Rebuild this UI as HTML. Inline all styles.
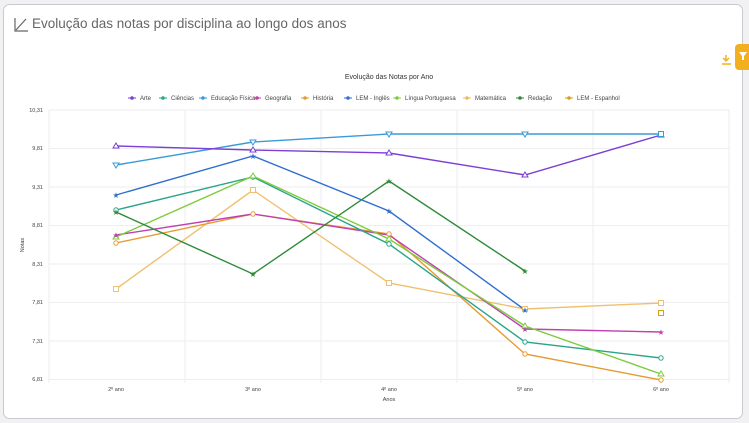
<!DOCTYPE html>
<html><head><meta charset="utf-8"><style>
html,body{margin:0;padding:0;background:#f1f1f3;width:749px;height:423px;overflow:hidden;font-family:"Liberation Sans",sans-serif}
</style></head><body>
<svg width="749" height="423" xmlns="http://www.w3.org/2000/svg" font-family="Liberation Sans, sans-serif">
<rect x="3.5" y="4.5" width="739" height="414" rx="6" fill="#fff" stroke="#c9c9d0"/>
<path d="M15,18 V31 H28 M16,30 L26,19" stroke="#666" stroke-width="1.2" fill="none"/>
<text x="32" y="28" font-size="13.5" fill="#666">Evolução das notas por disciplina ao longo dos anos</text>
<rect x="735" y="44" width="20" height="26" rx="4" fill="#f2b01e"/>
<path d="M739,52 h8 l-3,4 v4 h-2 v-4z" fill="#fff"/>
<path d="M726,55 v6 M723,58 l3,3 l3,-3 M722,64 h9" stroke="#f2b01e" stroke-width="1.5" fill="none"/>
<text x="389" y="79" font-size="7" fill="#333" text-anchor="middle">Evolução das Notas por Ano</text>
<g font-size="6" fill="#444">
<circle cx="132" cy="98" r="1.8" fill="#7b3fd6"/><line x1="128" y1="98" x2="136" y2="98" stroke="#7b3fd6"/><text x="140" y="100">Arte</text>
<circle cx="163" cy="98" r="1.8" fill="#2aa58a"/><line x1="159" y1="98" x2="167" y2="98" stroke="#2aa58a"/><text x="171" y="100">Ciências</text>
<circle cx="203" cy="98" r="1.8" fill="#3a9ad9"/><line x1="199" y1="98" x2="207" y2="98" stroke="#3a9ad9"/><text x="211" y="100">Educação Física</text>
<circle cx="257" cy="98" r="1.8" fill="#c040b0"/><line x1="253" y1="98" x2="261" y2="98" stroke="#c040b0"/><text x="265" y="100">Geografia</text>
<circle cx="305" cy="98" r="1.8" fill="#e69a30"/><line x1="301" y1="98" x2="309" y2="98" stroke="#e69a30"/><text x="313" y="100">História</text>
<circle cx="348" cy="98" r="1.8" fill="#2f6fd0"/><line x1="344" y1="98" x2="352" y2="98" stroke="#2f6fd0"/><text x="356" y="100">LEM - Inglês</text>
<circle cx="397" cy="98" r="1.8" fill="#7ccc3a"/><line x1="393" y1="98" x2="401" y2="98" stroke="#7ccc3a"/><text x="405" y="100">Língua Portuguesa</text>
<circle cx="467" cy="98" r="1.8" fill="#f0b860"/><line x1="463" y1="98" x2="471" y2="98" stroke="#f0b860"/><text x="475" y="100">Matemática</text>
<circle cx="520" cy="98" r="1.8" fill="#2e8b3a"/><line x1="516" y1="98" x2="524" y2="98" stroke="#2e8b3a"/><text x="528" y="100">Redação</text>
<circle cx="569" cy="98" r="1.8" fill="#d4a017"/><line x1="565" y1="98" x2="573" y2="98" stroke="#d4a017"/><text x="577" y="100">LEM - Espanhol</text>
</g>
<g stroke="#eeeef0" stroke-width="1">
<line x1="49" y1="110" x2="730" y2="110"/><line x1="49" y1="148.5" x2="730" y2="148.5"/><line x1="49" y1="187" x2="730" y2="187"/><line x1="49" y1="225.5" x2="730" y2="225.5"/><line x1="49" y1="264" x2="730" y2="264"/><line x1="49" y1="302.5" x2="730" y2="302.5"/><line x1="49" y1="341" x2="730" y2="341"/><line x1="49" y1="379.5" x2="730" y2="379.5"/>
<line x1="49" y1="110" x2="49" y2="383"/><line x1="185" y1="110" x2="185" y2="383"/><line x1="321" y1="110" x2="321" y2="383"/><line x1="457" y1="110" x2="457" y2="383"/><line x1="593" y1="110" x2="593" y2="383"/><line x1="729" y1="110" x2="729" y2="383"/>
</g>
<g font-size="5.5" fill="#444" text-anchor="end">
<text x="43" y="112">10,31</text><text x="43" y="150">9,81</text><text x="43" y="189">9,31</text><text x="43" y="227">8,81</text><text x="43" y="266">8,31</text><text x="43" y="304">7,81</text><text x="43" y="343">7,31</text><text x="43" y="381">6,81</text>
</g>
<g font-size="5.5" fill="#444" text-anchor="middle">
<text x="116" y="391">2º ano</text><text x="253" y="391">3º ano</text><text x="389" y="391">4º ano</text><text x="525" y="391">5º ano</text><text x="661" y="391">6º ano</text>
<text x="389" y="401">Anos</text>
<text transform="translate(24,245) rotate(-90)">Notas</text>
</g>
<g fill="none" stroke-width="1.4">
<polyline stroke="#f0c070" points="116,289 253,190 389,283 525,309 661,303"/>
<polyline stroke="#e69a30" points="116,243 253,214 389,234 525,354 661,380"/>
<polyline stroke="#c040b0" points="116,235 253,214 389,235 525,329 661,332"/>
<polyline stroke="#2aa58a" points="116,210 253,177 389,244 525,342 661,358"/>
<polyline stroke="#7ccc3a" points="116,237 253,176 389,239 525,326 661,374"/>
<polyline stroke="#2e8b3a" points="116,212 253,274 389,181 525,271"/>
<polyline stroke="#2f6fd0" points="116,195 253,156 389,211 525,310"/>
<polyline stroke="#3a9ad9" points="116,165 253,142 389,134 525,134 661,134"/>
<polyline stroke="#7b3fd6" points="116,146 253,150 389,153 525,175 661,135"/>
</g>
<g fill="#fff" stroke-width="1">
<g stroke="#f0c070"><rect x="113.5" y="286.5" width="5" height="5"/><rect x="250.5" y="187.5" width="5" height="5"/><rect x="386.5" y="280.5" width="5" height="5"/><rect x="522.5" y="306.5" width="5" height="5"/><rect x="658.5" y="300.5" width="5" height="5"/></g>
<rect x="658.5" y="310.5" width="5" height="5" stroke="#d4a017"/>
<g stroke="#e69a30"><circle cx="116" cy="243" r="2.2"/><circle cx="253" cy="214" r="2.2"/><circle cx="389" cy="234" r="2.2"/><circle cx="525" cy="354" r="2.2"/><circle cx="661" cy="380" r="2.2"/></g>
<g stroke="#2aa58a"><circle cx="116" cy="210" r="2.2"/><circle cx="253" cy="177" r="2.2"/><circle cx="389" cy="244" r="2.2"/><circle cx="525" cy="342" r="2.2"/><circle cx="661" cy="358" r="2.2"/></g>
<g stroke="#7ccc3a"><path d="M116,234 l3,5 h-6z M253,173 l3,5 h-6z M389,236 l3,5 h-6z M525,323 l3,5 h-6z M661,371 l3,5 h-6z"/></g>
<g stroke="#7b3fd6"><path d="M116,143 l3,5 h-6z M253,147 l3,5 h-6z M389,150 l3,5 h-6z M525,172 l3,5 h-6z M661,132 l3,5 h-6z"/></g>
<g stroke="#3a9ad9"><path d="M116,168 l3,-5 h-6z M253,145 l3,-5 h-6z M389,137 l3,-5 h-6z M525,137 l3,-5 h-6z"/><rect x="658.5" y="131.5" width="5" height="5"/></g>
</g>
<g font-size="8" text-anchor="middle">
<text x="116" y="215" fill="#2e8b3a">★</text><text x="253" y="277" fill="#2e8b3a">★</text><text x="389" y="184" fill="#2e8b3a">★</text><text x="525" y="274" fill="#2e8b3a">★</text>
<text x="116" y="198" fill="#2f6fd0">★</text><text x="253" y="159" fill="#2f6fd0">★</text><text x="389" y="214" fill="#2f6fd0">★</text><text x="525" y="313" fill="#2f6fd0">★</text>
<text x="116" y="238" fill="#c040b0">★</text><text x="525" y="332" fill="#c040b0">★</text><text x="661" y="335" fill="#c040b0">★</text>
</g>
</svg>
</body></html>
